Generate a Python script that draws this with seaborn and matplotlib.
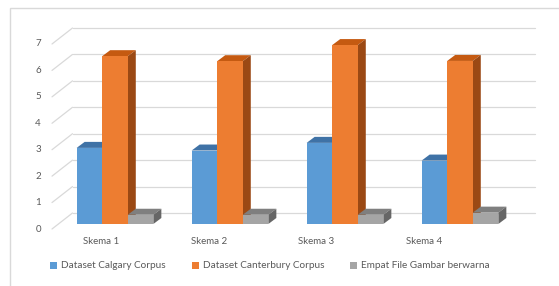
import matplotlib
matplotlib.use("Agg")
import matplotlib.pyplot as plt
import matplotlib.transforms as mtrans
from matplotlib.patches import Polygon, Rectangle
import seaborn as sns
import pandas as pd

# values
schemes = ["Skema 1", "Skema 2", "Skema 3", "Skema 4"]
calgary = [2.88, 2.78, 3.07, 2.40]
canterbury = [6.35, 6.16, 6.77, 6.17]
gambar = [0.35, 0.35, 0.35, 0.43]
series = ["Dataset Calgary Corpus", "Dataset Canterbury Corpus", "Empat File Gambar berwarna"]
yticks = [0, 1, 2, 3, 4, 5, 6, 7]

front = ["#5b9bd5", "#ed7d31", "#a5a5a5"]
top = ["#3f72a6", "#c55a11", "#7f7f7f"]
side = ["#3a6894", "#9b4914", "#666666"]

rows = []
for s, vals in zip(series, [calgary, canterbury, gambar]):
    for c, v in zip(schemes, vals):
        rows.append({"skema": c, "series": s, "value": v})
df = pd.DataFrame(rows)

sns.set_style("white")
plt.rcParams["font.family"] = ["Lato", "DejaVu Sans"]
txt = "#595959"

fig = plt.figure(figsize=(5.59, 2.86), dpi=100)
ax = fig.add_axes([57.5 / 559, 62 / 286, 460 / 559, 185 / 286])
sns.barplot(data=df, x="skema", y="value", hue="series", hue_order=series,
            palette=front, saturation=1, width=0.667, gap=0, legend=False, ax=ax)
ax.set_xlim(-0.5, 3.5)
ax.set_ylim(0, 7)
for sp in ax.spines.values():
    sp.set_visible(False)
ax.set_xlabel("")
ax.set_ylabel("")
fig.canvas.draw()


def off(x, y, dxp, dyp):
    p = ax.transData.transform((x, y))
    return ax.transData.inverted().transform((p[0] + dxp, p[1] + dyp))


# back wall and side wall grid
x0, x1 = ax.get_xlim()
for v in yticks:
    a = off(x0, v, 15, 11)
    b = off(x1, v, 17, 11)
    ax.plot([a[0], b[0]], [a[1], b[1]], color="#d9d9d9", lw=0.9, zorder=0.5, clip_on=False)
    f = off(x0, v, -5.5, -5)
    ax.plot([f[0], a[0]], [f[1], a[1]], color="#d9d9d9", lw=0.9, zorder=0.5, clip_on=False)

# 3d faces of the bars
dx, dy = 8, 6
for k, cont in enumerate(ax.containers):
    for p in cont.patches:
        p.set_zorder(2 + k)
        p.set_edgecolor("none")
        xl, w, h = p.get_x(), p.get_width(), p.get_height()
        xr = xl + w
        tface = [(xl, h), (xr, h), tuple(off(xr, h, dx, dy)), tuple(off(xl, h, dx, dy))]
        sface = [(xr, 0), tuple(off(xr, 0, dx, dy)), tuple(off(xr, h, dx, dy)), (xr, h)]
        ax.add_patch(Polygon(tface, closed=True, fc=top[k], ec="none", zorder=1.9 + k, clip_on=False))
        ax.add_patch(Polygon(sface, closed=True, fc=side[k], ec="none", zorder=1.9 + k, clip_on=False))

# tick labels
ax.set_yticks(yticks)
ax.set_yticklabels([str(v) for v in yticks])
ax.tick_params(axis="y", length=0, pad=12, labelsize=7, labelcolor=txt)
ax.tick_params(axis="x", length=0, pad=9, labelsize=7, labelcolor=txt)
for lab in ax.get_yticklabels():
    lab.set_transform(lab.get_transform() + mtrans.ScaledTranslation(0, -0.04, fig.dpi_scale_trans))
shifts = [-14, -21, -29, -36]
for lab, s in zip(ax.get_xticklabels(), shifts):
    lab.set_transform(lab.get_transform() + mtrans.ScaledTranslation(s / 100, 0, fig.dpi_scale_trans))

# legend
handles = [Rectangle((0, 0), 1, 1, fc=c, ec="none") for c in front]
fig.legend(handles, series, loc="center", bbox_to_anchor=(270 / 559, 1 - 266 / 286), ncol=3,
           frameon=False, fontsize=7.2, labelcolor=txt, handlelength=0.7, handleheight=0.7,
           handletextpad=0.4, columnspacing=2.6)

# chart frame
fig.patches.append(Rectangle((10 / 559, -0.1), 1.2, 1 - 8 / 286 + 0.1, transform=fig.transFigure,
                             fill=False, ec="#d9d9d9", lw=1))

fig.savefig("out.png", dpi=100)
